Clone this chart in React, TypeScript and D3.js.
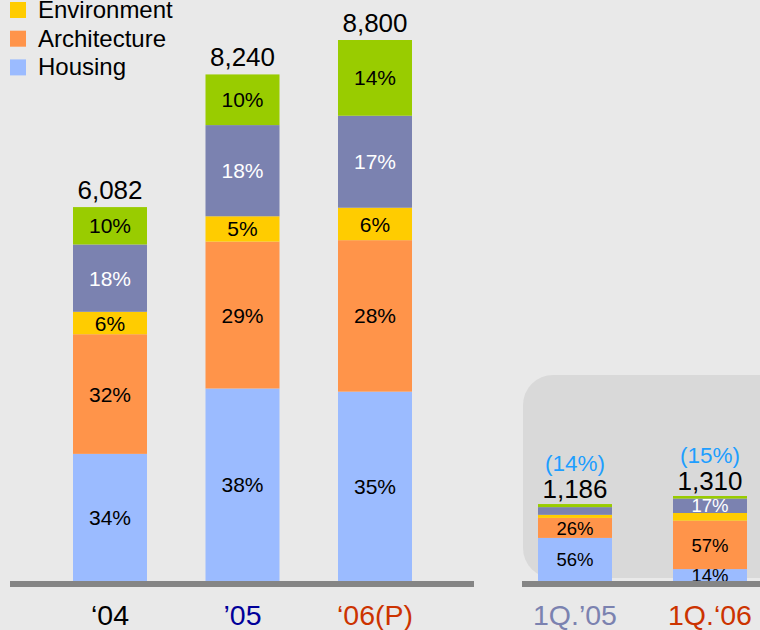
import React from "react";
import * as d3 from "d3";

// ---- data ----
const annualPeriods = ["\u201804", "\u201905", "\u201806(P)"];
const annualTotals = [6082, 8240, 8800];
const annualHousing = [34, 38, 35];
const annualArchitecture = [32, 29, 28];
const annualEnvironment = [6, 5, 6];
const annualPurple = [18, 18, 17];
const annualGreen = [10, 10, 14];

const quarterPeriods = ["1Q.\u201905", "1Q.\u201806"];
const quarterTotals = [1186, 1310];
const quarterGrowth = ["(14%)", "(15%)"];
const quarterHousing = [56, 14];
const quarterArchitecture = [26, 57];
const quarterEnvironment = [4, 9];
const quarterPurple = [10, 17];
const quarterGreen = [4, 3];
const quarterShowLabel = {
  housing: [true, true],
  architecture: [true, true],
  environment: [false, false],
  purple: [false, true],
  green: [false, false],
};

const legendItems = ["Environment", "Architecture", "Housing"];

const seriesKeys = ["housing", "architecture", "environment", "purple", "green"];
const seriesColors: Record<string, string> = {
  housing: "#9BBBFF",
  architecture: "#FF944A",
  environment: "#FFCC00",
  purple: "#7B82B0",
  green: "#99CC00",
};
const labelColors: Record<string, string> = {
  housing: "#000",
  architecture: "#000",
  environment: "#000",
  purple: "#fff",
  green: "#000",
};
const annualLabelColors = ["#000000", "#000099", "#CC3300"];
const quarterLabelColors = ["#7B82B0", "#CC3300"];

const FONT = "Arial, 'Liberation Sans', Helvetica, sans-serif";

function buildRows(totals: number[], pcts: Record<string, number[]>) {
  return totals.map((t, i) => {
    const row: any = { i };
    seriesKeys.forEach((k) => (row[k] = (t * pcts[k][i]) / 100));
    return row;
  });
}

export default function App() {
  const W = 760;
  const H = 630;
  const baseY = 581;
  const barW = 74;

  const annualPcts: Record<string, number[]> = {
    housing: annualHousing,
    architecture: annualArchitecture,
    environment: annualEnvironment,
    purple: annualPurple,
    green: annualGreen,
  };
  const quarterPcts: Record<string, number[]> = {
    housing: quarterHousing,
    architecture: quarterArchitecture,
    environment: quarterEnvironment,
    purple: quarterPurple,
    green: quarterGreen,
  };

  const stack = d3.stack<any>().keys(seriesKeys);
  const annualStack = stack(buildRows(annualTotals, annualPcts));
  const quarterStack = stack(buildRows(quarterTotals, quarterPcts));

  const xA = d3.scalePoint<string>().domain(annualPeriods).range([110, 375]);
  const yA = d3.scaleLinear().domain([0, 8800]).range([baseY, 40]);
  const xQ = d3.scalePoint<string>().domain(quarterPeriods).range([575, 710]);
  const yQ = d3.scaleLinear().domain([0, 1310]).range([baseY, 496]);

  const renderBars = (
    stacked: any[],
    periods: string[],
    x: d3.ScalePoint<string>,
    y: d3.ScaleLinear<number, number>,
    pcts: Record<string, number[]>,
    fontSize: number,
    show: (k: string, i: number) => boolean
  ) =>
    stacked.map((layer) => (
      <g key={layer.key}>
        {layer.map((d: any, i: number) => {
          const cx = x(periods[i])!;
          const y0 = y(d[0]);
          const y1 = y(d[1]);
          return (
            <g key={i}>
              <rect
                x={cx - barW / 2}
                y={y1}
                width={barW}
                height={y0 - y1}
                fill={seriesColors[layer.key]}
              />
              {show(layer.key, i) && (
                <text
                  x={cx}
                  y={(y0 + y1) / 2}
                  dy="0.36em"
                  textAnchor="middle"
                  fontSize={fontSize}
                  fill={labelColors[layer.key]}
                >
                  {pcts[layer.key][i]}%
                </text>
              )}
            </g>
          );
        })}
      </g>
    ));

  return (
    <div style={{ position: "absolute", left: 0, top: 0, width: W, height: H }}>
      <svg width={W} height={H} style={{ display: "block", fontFamily: FONT }}>
        <rect x={0} y={0} width={W} height={H} fill="#E9E9E9" />
        {/* quarterly panel background */}
        <rect x={523} y={375} width={268} height={203} rx={30} ry={30} fill="#D9D9D9" />

        {/* legend */}
        {legendItems.map((name, i) => {
          const key = name === "Environment" ? "environment" : name === "Architecture" ? "architecture" : "housing";
          const yy = 2 + i * 28.7;
          return (
            <g key={name}>
              <rect x={10} y={yy} width={16} height={16} fill={seriesColors[key]} />
              <text x={38} y={yy + 16} fontSize={24} fill="#000">
                {name}
              </text>
            </g>
          );
        })}

        {/* annual bars */}
        {renderBars(annualStack, annualPeriods, xA, yA, annualPcts, 21, () => true)}
        {annualTotals.map((t, i) => (
          <text
            key={i}
            x={xA(annualPeriods[i])!}
            y={yA(t) - 8}
            textAnchor="middle"
            fontSize={26}
            fill="#000"
          >
            {d3.format(",")(t)}
          </text>
        ))}

        {/* quarterly bars */}
        {renderBars(quarterStack, quarterPeriods, xQ, yQ, quarterPcts, 18.5, (k, i) => (quarterShowLabel as any)[k][i])}
        {quarterTotals.map((t, i) => (
          <g key={i}>
            <text
              x={xQ(quarterPeriods[i])!}
              y={yQ(t) - 6}
              textAnchor="middle"
              fontSize={26}
              fill="#000"
            >
              {d3.format(",")(t)}
            </text>
            <text
              x={xQ(quarterPeriods[i])!}
              y={yQ(t) - 33}
              textAnchor="middle"
              fontSize={22.5}
              fill="#1E9EFF"
            >
              {quarterGrowth[i]}
            </text>
          </g>
        ))}

        {/* axis lines */}
        <rect x={10} y={581} width={464} height={6} fill="#858585" />
        <rect x={522} y={581} width={238} height={6} fill="#858585" />

        {/* category labels */}
        {annualPeriods.map((p, i) => (
          <text key={p} x={xA(p)!} y={625} textAnchor="middle" fontSize={28.5} fill={annualLabelColors[i]}>
            {p}
          </text>
        ))}
        {quarterPeriods.map((p, i) => (
          <text key={p} x={xQ(p)!} y={625} textAnchor="middle" fontSize={28.5} fill={quarterLabelColors[i]}>
            {p}
          </text>
        ))}
      </svg>
    </div>
  );
}
